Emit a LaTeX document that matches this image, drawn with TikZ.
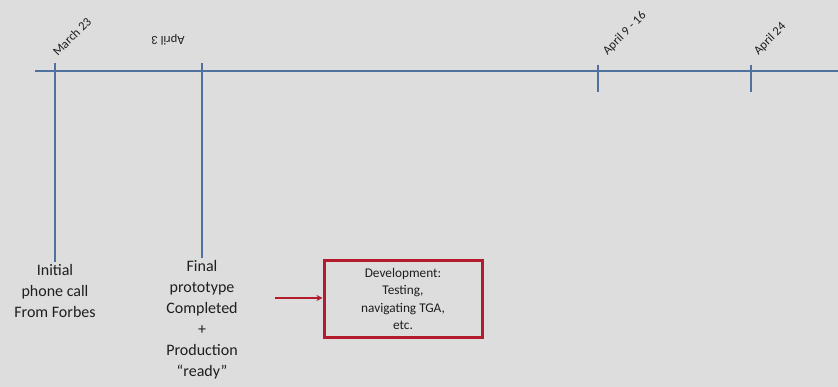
\documentclass[tikz,border=0pt]{standalone}
\usepackage{fontspec}
\setmainfont{Carlito}
\usetikzlibrary{arrows.meta}
\definecolor{bgc}{RGB}{221,221,221}
\definecolor{linec}{RGB}{79,113,160}
\definecolor{boxc}{RGB}{180,28,45}
\definecolor{txt}{RGB}{30,30,30}
\begin{document}
\begin{tikzpicture}[x=1pt,y=-1pt,
  tl/.style={draw=linec,line width=2pt},
  tick/.style={draw=linec,line width=1.6pt},
  datelbl/.style={font=\fontsize{12.5}{14}\selectfont,text=txt,inner sep=0pt},
  evt/.style={font=\fontsize{16}{21}\selectfont,text=txt,align=center,inner sep=0pt},
  devbox/.style={draw=boxc,line width=3pt,minimum width=158pt,minimum height=76pt,
    font=\fontsize{13.3}{17.5}\selectfont,text=txt,align=center},
  redarrow/.style={draw=boxc,line width=1.6pt,-{Stealth[length=6pt,width=6pt]}}]
\fill[bgc] (0,0) rectangle (838,387);
\useasboundingbox (0,0) rectangle (838,387);
\coordinate (L) at (35,71);
\coordinate (R) at (838,71);
\draw[tl] (L) -- (R);
% ticks
\coordinate (m23t) at (55,63);
\coordinate (m23b) at (55,262);
\coordinate (a3t) at (202,63);
\coordinate (a3b) at (202,258);
\coordinate (a9t) at (598,65);
\coordinate (a9b) at (598,92);
\coordinate (a24t) at (751,65);
\coordinate (a24b) at (751,92);
\draw[tick] (m23t) -- (m23b);
\draw[tick] (a3t) -- (a3b);
\draw[tick] (a9t) -- (a9b);
\draw[tick] (a24t) -- (a24b);
% date labels
\node[datelbl,rotate=45,anchor=south west] (m23) at (58,57) {March 23};
\node[datelbl,rotate=180] (a3) at (168,40) {April 3};
\node[datelbl,rotate=45,anchor=south west] (a9) at (609,57) {April 9 - 16};
\node[datelbl,rotate=45,anchor=south west] (a24) at (760,57) {April 24};
% events
\node[evt,anchor=north] (init) at (55,264) {Initial\\phone call\\From Forbes};
\node[evt,anchor=north] (final) at (202,260) {Final\\prototype\\Completed\\+\\Production\\“ready”};
\node[devbox] (dev) at (403,299) {Development:\\Testing,\\navigating TGA,\\etc.};
\coordinate (as) at (275,298);
\draw[redarrow] (as) -- (dev.west |- as);
\end{tikzpicture}
\end{document}
